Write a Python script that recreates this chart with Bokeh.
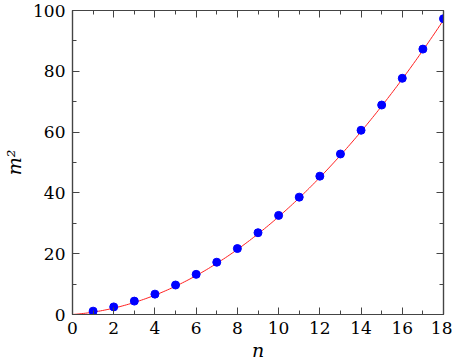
from bokeh.plotting import figure
from bokeh.models import LinearAxis, SingleIntervalTicker, Range1d
from bokeh.embed import file_html
from bokeh.resources import INLINE
import numpy as np

n_vals = [1, 2, 3, 4, 5, 6, 7, 8, 9, 10, 11, 12, 13, 14, 15, 16, 17, 18]
m2_vals = [1.1, 2.5, 4.4, 6.7, 9.7, 13.2, 17.2, 21.7, 26.9, 32.6, 38.6,
           45.5, 52.8, 60.6, 68.9, 77.7, 87.3, 97.3]
x_label = "n"
y_label = "m²"

# smooth fitted curve derived from the data (through origin)
coef = np.polyfit(np.array(n_vals, float), np.array(m2_vals), 2)
xs = np.linspace(0, 18, 200)
ys = np.polyval([coef[0], coef[1], 0.0], xs)

FONT = "DejaVu Serif"
AX = "#444444"

p = figure(width=452, height=363, output_backend="svg", toolbar_location=None,
           x_range=Range1d(0, 18), y_range=Range1d(0, 100),
           min_border_left=71, min_border_right=9, min_border_top=10,
           min_border_bottom=45, x_axis_location=None, y_axis_location=None)
p.grid.visible = False
p.outline_line_color = AX
p.outline_line_width = 1.2
p.background_fill_color = "white"
p.border_fill_color = "white"

def style(ax, show_labels):
    ax.axis_line_color = AX
    ax.axis_line_width = 1.2
    ax.major_tick_line_color = AX
    ax.minor_tick_line_color = AX
    ax.major_tick_in = 7
    ax.major_tick_out = 0
    ax.minor_tick_in = 4
    ax.minor_tick_out = 0
    ax.major_label_text_font = FONT
    ax.major_label_text_font_size = "17px"
    ax.major_label_text_color = "black"
    ax.axis_label_text_font = FONT
    ax.axis_label_text_font_size = "19px"
    ax.axis_label_text_font_style = "italic"
    ax.axis_label_text_color = "black"
    if not show_labels:
        ax.major_label_text_alpha = 0
        ax.major_label_text_font_size = "0px"
        ax.major_label_standoff = 0

xb = LinearAxis(ticker=SingleIntervalTicker(interval=2, num_minor_ticks=2), axis_label=x_label)
style(xb, True)
xb.major_label_standoff = 7
xb.axis_label_standoff = 2
p.add_layout(xb, "below")

yl = LinearAxis(ticker=SingleIntervalTicker(interval=20, num_minor_ticks=2), axis_label=y_label)
style(yl, True)
yl.major_label_standoff = 7
yl.axis_label_standoff = 5
p.add_layout(yl, "left")

xt = LinearAxis(ticker=SingleIntervalTicker(interval=2, num_minor_ticks=2))
style(xt, False)
p.add_layout(xt, "above")

yr = LinearAxis(ticker=SingleIntervalTicker(interval=20, num_minor_ticks=2))
style(yr, False)
p.add_layout(yr, "right")

p.line(xs, ys, line_color="#ff2020", line_width=1)
p.scatter(n_vals, m2_vals, size=8, fill_color="#0000ff", line_color="#0000ff")

open("out.html", "w").write(file_html(p, INLINE))
